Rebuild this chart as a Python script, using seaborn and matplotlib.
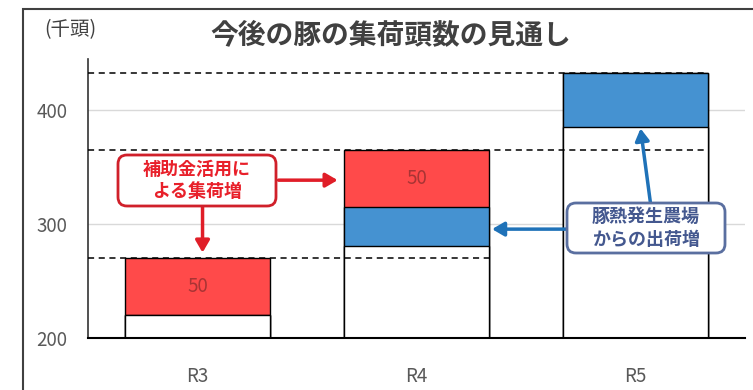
import matplotlib
matplotlib.use("Agg")
import matplotlib.pyplot as plt
import matplotlib.patches as mpatches
from matplotlib.transforms import IdentityTransform
import seaborn as sns
import pandas as pd

# data (千頭)
categories = ["R3", "R4", "R5"]
base_vals = [220, 281, 385]
fever_vals = [0, 34, 48]     # 豚熱発生農場からの出荷増
subsidy_vals = [50, 50, 0]   # 補助金活用による集荷増
subsidy_labels = ["50", "50", ""]
yticks = [200, 300, 400]

sns.set_theme(style="white")
plt.rcParams['font.family'] = ['Noto Sans CJK JP', 'DejaVu Sans']

lvl1 = [b for b in base_vals]
lvl2 = [b + f for b, f in zip(base_vals, fever_vals)]
lvl3 = [b + f + s for b, f, s in zip(base_vals, fever_vals, subsidy_vals)]
df = pd.DataFrame({"cat": categories, "l1": lvl1, "l2": lvl2, "l3": lvl3})

fig = plt.figure(figsize=(7.53, 3.90), dpi=100)
ax = fig.add_axes([88 / 753, 52 / 390, 657 / 753, 279 / 390])

W = 0.66
RED = "#FF4A4A"
BLUE = "#4592D1"
sns.barplot(data=df, x="cat", y="l3", color=RED, width=W, saturation=1,
            edgecolor="black", linewidth=1.0, ax=ax, zorder=3)
sns.barplot(data=df, x="cat", y="l2", color=BLUE, width=W, saturation=1,
            edgecolor="black", linewidth=1.0, ax=ax, zorder=3)
sns.barplot(data=df, x="cat", y="l1", color="white", width=W, saturation=1,
            edgecolor="black", linewidth=1.0, ax=ax, zorder=3)

ax.set_xlim(-0.5, 2.5)
ax.set_ylim(200, 445)
ax.set_yticks(yticks)
ax.set_yticklabels([str(v) for v in yticks], color="#595959", fontsize=13.5)
ax.tick_params(axis="y", length=0, pad=15)
ax.tick_params(axis="x", length=0, pad=20, labelsize=13.5, labelcolor="#595959")
ax.set_xlabel("")
ax.set_ylabel("")
for yv in yticks[1:]:
    ax.axhline(yv, color="#d9d9d9", lw=1, zorder=1)
for s in ["top", "right"]:
    ax.spines[s].set_visible(False)
ax.spines["left"].set_color("#333333")
ax.spines["left"].set_linewidth(1.2)
ax.spines["bottom"].set_color("black")
ax.spines["bottom"].set_linewidth(1.5)
ax.spines["bottom"].set_zorder(5)

# dashed level lines
ax.hlines(lvl3[0], -0.5, 1 + W / 2, colors="black", linestyles=(0, (4, 3)), lw=1.1, zorder=4)
ax.hlines(lvl3[1], -0.5, 2 + W / 2, colors="black", linestyles=(0, (4, 3)), lw=1.1, zorder=4)
ax.hlines(lvl3[2], -0.5, 2 + W / 2, colors="black", linestyles=(0, (4, 3)), lw=1.1, zorder=4)

# value labels in red segments
for i, lab in enumerate(subsidy_labels):
    if lab:
        ax.text(i, lvl2[i] + subsidy_vals[i] / 2, lab, ha="center", va="center",
                fontsize=13.5, color="#A83434", zorder=6)

# arrows
red_arrow = dict(arrowstyle="-|>,head_length=0.6,head_width=0.35", color="#E01E28", lw=2.5,
                 shrinkA=0, shrinkB=0)
blue_arrow = dict(arrowstyle="-|>,head_length=0.6,head_width=0.35", color="#1F72B8", lw=2.5,
                  shrinkA=0, shrinkB=0)
ax.annotate("", xy=(0.64, 338.6), xytext=(0.37, 338.6), arrowprops=red_arrow, zorder=7)
ax.annotate("", xy=(0.023, 275.0), xytext=(0.023, 316.0), arrowprops=red_arrow, zorder=7)
ax.annotate("", xy=(1.345, 295.6), xytext=(1.70, 295.6), arrowprops=blue_arrow, zorder=7)
ax.annotate("", xy=(2.023, 384.0), xytext=(2.068, 319.0), arrowprops=blue_arrow, zorder=7)

# annotation boxes (pixel coordinates)
H = 390
red_box = mpatches.FancyBboxPatch((118, H - 206), 158, 51,
                                  boxstyle="round,pad=0,rounding_size=9",
                                  fc="white", ec="#D0202A", lw=2.0,
                                  transform=IdentityTransform(), zorder=8)
blue_box = mpatches.FancyBboxPatch((567, H - 253), 158, 50,
                                   boxstyle="round,pad=0,rounding_size=9",
                                   fc="white", ec="#5A6FA0", lw=2.0,
                                   transform=IdentityTransform(), zorder=8)
fig.add_artist(red_box)
fig.add_artist(blue_box)
fig.text(197 / 753, 1 - 180.5 / H, "補助金活用に\nよる集荷増", ha="center", va="center",
         fontsize=13, fontweight="bold", color="#E8202A", linespacing=1.2, zorder=9)
fig.text(646 / 753, 1 - 228 / H, "豚熱発生農場\nからの出荷増", ha="center", va="center",
         fontsize=13, fontweight="bold", color="#44588F", linespacing=1.25, zorder=9)

# title and unit
fig.text(391 / 753, 1 - 35 / H, "今後の豚の集荷頭数の見通し", ha="center", va="center",
         fontsize=20, fontweight="bold", color="#404040")
fig.text(70 / 753, 1 - 30 / H, "(千頭)", ha="center", va="center",
         fontsize=14, color="#404040")

# outer frame
fig.patches.append(mpatches.Rectangle((23 / 753, -0.05), 1.0, 1 - 9 / H + 0.05,
                                      transform=fig.transFigure, fill=False,
                                      ec="#404040", lw=1.5))

fig.savefig("out.png", dpi=100)
